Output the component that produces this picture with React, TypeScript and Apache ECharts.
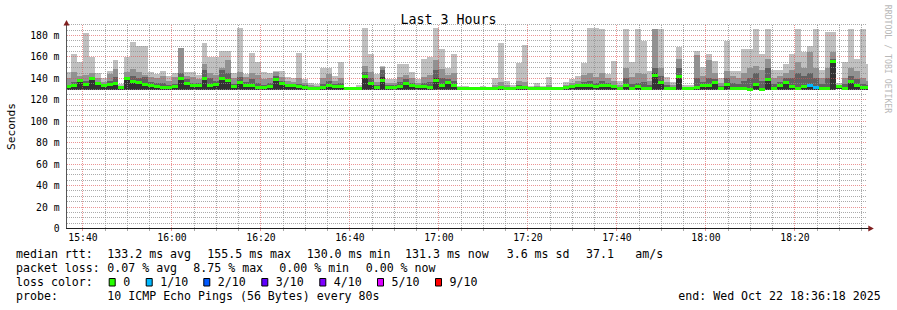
import React, { useEffect, useRef } from 'react';
import * as echarts from 'echarts';

// Times are minutes since midnight
const AXIS_START = 15 * 60 + 36 + 18 / 60; // 15:36:18
const AXIS_END = 18 * 60 + 36 + 18 / 60; // 18:36:18
const FIRST_BIN_START = 15 * 60 + 35 + 59 / 60; // 15:35:59
const BIN_MINUTES = 80 / 60; // one probe round every 80 s
const Y_MAX = 190;

// Smoke layers (ms): outer top .. inner top, bottom of smoke, median, loss (pings lost of 10)
const hi1 = [
  146, 162.5, 155, 182, 159.5, 145.5, 140, 146.5, 157, 134.5,
  159.5, 173.5, 170, 170, 146, 144, 147, 142.5, 145, 168,
  146, 146, 143, 173, 159.5, 159.5, 166, 166, 145, 187,
  144, 164, 155, 146, 145, 147, 147, 141, 140, 164,
  139, 136, 135, 150, 150, 142.5, 155.5, 132, 131.5, 134,
  187, 162.5, 144, 152, 139.4, 139.4, 153.3, 153.3, 145.6, 139.4,
  158, 160, 187, 167, 150, 162.5, 133, 133, 132, 131.5,
  133, 132, 140.5, 172.8, 138, 134, 154, 170.7, 133, 135.5,
  133, 141, 132, 131.5, 137, 139, 142, 154, 187, 187,
  186, 144, 156, 138, 186, 155, 186, 175, 147, 186.5,
  186, 141, 137, 169, 134, 134, 166, 150.5, 163, 156.7,
  140, 175, 147, 147, 167.6, 167.6, 186, 163, 186, 147.4,
  147.4, 153.6, 163, 186, 164.5, 170, 186, 147.4, 183, 183,
  136, 155, 186, 158, 186, 153,
];
const hi2 = [
  140, 146, 142, 143, 145, 140, 137, 144, 149, 133,
  146, 149, 146, 143, 141, 140, 142.5, 138, 141, 168,
  142.5, 141, 139, 153, 145, 143, 150, 157, 140, 146,
  141, 145, 143, 139, 140, 146, 141, 138, 137, 140,
  136, 134, 133, 140, 144, 138, 140, 131.5, 131, 132,
  152, 146, 137, 151, 136, 136, 141, 143, 140, 136,
  141, 143, 157, 149, 143, 145, 132, 132, 131, 131,
  131.5, 131, 134, 136.5, 134, 132, 138, 136.5, 131.5, 132.5,
  131.5, 134, 131, 131, 134, 136, 138, 143, 145, 141,
  145, 140, 138, 134, 150, 141, 145, 144, 138, 186,
  150, 137, 134, 158, 132, 132, 162, 142, 157, 145,
  136, 147, 142, 140, 145, 150, 152, 148, 158, 140,
  142, 145, 148, 155, 150, 165, 150, 140, 150, 165,
  134, 140, 150, 147, 140, 138,
];
const hi3 = [
  134, 137, 139, 138, 141, 136.5, 135, 138, 141, 132,
  141.5, 142, 140, 141.5, 137, 136, 136, 134, 135, 145,
  139, 136, 136, 148, 140, 138, 148, 145, 135, 141,
  137, 139, 136, 134, 136, 142, 138, 135, 135, 135,
  134, 132, 132, 135, 138, 135, 136, 131, 130.8, 131.5,
  146, 140, 134, 148, 134, 134, 137, 139, 136, 134,
  136, 137, 148, 140, 139, 138, 131.5, 131.5, 130.8, 130.7,
  131, 130.8, 132, 133, 132, 131, 134, 133, 131, 131.5,
  131, 132, 130.8, 130.7, 132, 133, 135, 137, 138, 136,
  138, 136, 134, 132, 140, 135, 136, 137, 134, 150,
  142, 134, 132, 150, 131, 131, 140, 137, 140, 139,
  133, 140, 136, 135, 138, 140, 145, 138, 150, 135,
  137, 140, 140, 145, 142, 145, 140, 135, 140, 158,
  133, 135, 142, 139, 135, 134,
];
const hi4 = [
  133, 134, 139, 135.5, 141, 135.5, 134, 135.5, 136, 131.8,
  141, 138, 136.5, 136, 134, 133, 132, 132, 133, 141,
  136, 134, 134, 141, 134, 134.5, 141, 139, 133, 137,
  134, 134, 132, 132, 133, 139.5, 135.5, 134, 134, 133,
  132, 131.5, 131.5, 132, 134, 133, 133.5, 130.8, 130.5, 131,
  143, 137, 132, 141, 132, 132, 133, 136, 134, 132,
  133, 133, 140, 134, 136.5, 134, 131.2, 131.2, 130.6, 130.5,
  130.7, 130.6, 131, 132.3, 131.3, 130.7, 132.3, 131.8, 130.7, 130.8,
  130.7, 131, 130.6, 130.5, 131.5, 132.3, 134, 133.5, 134, 133,
  134, 134.5, 132.5, 131.3, 135, 131.5, 132.5, 131.5, 131, 145,
  137, 131.5, 131.5, 143, 130.8, 130.8, 132, 134.5, 134.5, 137,
  131.5, 135, 131, 131, 131, 131, 135.5, 131, 140, 131,
  134, 137.5, 132.5, 131.5, 133, 134.5, 132, 131, 131, 157,
  132.8, 131, 138.5, 134.5, 132, 132,
];
const low = [
  129.5, 129.0, 129.3, 129.0, 129.2, 129.5, 129.3, 129.0, 129.2, 129.6,
  129.0, 129.3, 129.2, 129.0, 129.4, 129.5, 129.3, 129.5, 129.2, 129.0,
  129.3, 129.5, 129.4, 129.0, 129.3, 129.2, 129.0, 129.1, 129.4, 129.2,
  129.4, 129.3, 129.5, 129.6, 129.4, 129.0, 129.3, 129.5, 129.5, 129.4,
  129.6, 129.7, 129.7, 129.5, 129.3, 129.5, 129.4, 129.8, 129.8, 129.7,
  129.0, 129.2, 129.6, 129.0, 129.6, 129.6, 129.4, 129.2, 129.4, 129.6,
  129.4, 129.3, 129.0, 129.3, 129.2, 129.4, 129.8, 129.8, 129.8, 129.9,
  129.8, 129.8, 129.7, 129.6, 129.7, 129.8, 129.6, 129.6, 129.8, 129.7,
  129.8, 129.7, 129.8, 129.9, 129.6, 129.5, 129.3, 129.3, 129.2, 129.4,
  129.3, 129.3, 129.4, 129.6, 129.2, 129.5, 129.4, 129.5, 129.7, 129.0,
  129.2, 129.6, 129.6, 129.0, 129.8, 129.8, 129.5, 129.3, 129.3, 129.2,
  129.6, 129.3, 129.5, 129.6, 129.5, 129.6, 129.3, 129.6, 129.0, 129.6,
  129.4, 129.2, 129.4, 129.5, 129.4, 129.2, 129.4, 129.6, 129.5, 129.0,
  129.7, 129.5, 129.0, 129.3, 129.4, 129.5,
];
const median = [
  132.5, 133, 138, 134.5, 140, 135, 133.5, 134.5, 135, 131.5,
  140, 137, 136, 134.5, 133, 132.5, 131.5, 131.5, 132.5, 140,
  135, 133.5, 133, 140, 133, 134, 140, 138, 132.5, 136.5,
  133.5, 133.5, 131.2, 131.5, 132.5, 138.8, 135, 133.5, 133.5, 132,
  131.2, 131, 131, 131.5, 133.5, 132, 132.5, 130.3, 130.2, 130.8,
  141.8, 135.5, 131.5, 138.5, 131.5, 131.5, 132.4, 135.3, 133.7, 132,
  132.4, 131.8, 137.8, 133.1, 135.8, 133.1, 131, 131, 130.5, 130.3,
  130.5, 130.4, 130.8, 131.9, 131, 130.5, 131.9, 131.3, 130.5, 130.6,
  130.5, 130.8, 130.5, 130.3, 131.2, 132, 133.5, 133, 133.5, 132.5,
  133, 133.8, 132, 131, 133.5, 131, 132, 131, 130.5, 143,
  136, 131, 131, 142, 130.4, 130.4, 131.3, 133.5, 133.5, 136,
  131, 134, 130.5, 130.5, 130.5, 130, 134, 130, 138.6, 130.5,
  133, 136.3, 132, 131, 132.5, 133.5, 131.5, 130.5, 130.5, 155.5,
  132.5, 130.5, 137.3, 133.5, 131.3, 131.3,
];
const loss = [
  0, 0, 0, 0, 0, 0, 0, 0, 0, 0, 0, 0, 0, 0, 0, 0, 0, 0, 0, 0,
  0, 0, 0, 0, 0, 0, 0, 0, 0, 0, 0, 0, 0, 0, 0, 0, 0, 0, 0, 0,
  0, 0, 0, 0, 0, 0, 0, 0, 0, 0, 0, 0, 0, 0, 0, 0, 0, 0, 0, 0,
  0, 0, 0, 0, 0, 0, 0, 0, 0, 0, 0, 0, 0, 0, 0, 0, 0, 0, 0, 0,
  0, 0, 0, 0, 0, 0, 0, 0, 0, 0, 0, 0, 0, 0, 0, 0, 0, 0, 0, 0,
  0, 0, 0, 0, 0, 0, 0, 0, 0, 0, 0, 0, 0, 0, 0, 0, 0, 0, 0, 0,
  0, 0, 0, 0, 0, 1, 1, 0, 0, 0, 0, 0, 0, 0, 0, 0,
];

const lossLabels = ['0', '1/10', '2/10', '3/10', '4/10', '5/10', '9/10'];
const lossColors = ['#26ff00', '#00b8ff', '#0059ff', '#5e00ff', '#7e00ff', '#dd00ff', '#ff0000'];
const smokeColors = ['#c0c0c0', '#919191', '#616161', '#323232'];

const titleText = 'Last 3 Hours';
const yAxisTitle = 'Seconds';
const creditText = 'RRDTOOL / TOBI OETIKER';
const rttLabel = 'median rtt:';
const rttStats = ['133.2 ms avg', '155.5 ms max', '130.0 ms min', '131.3 ms now', '3.6 ms sd', '37.1', 'am/s'];
const lossLabel = 'packet loss:';
const lossStats = ['0.07 % avg', '8.75 % max', '0.00 % min', '0.00 % now'];
const colorLabel = 'loss color:';
const probeLabel = 'probe:';
const probeText = '10 ICMP Echo Pings (56 Bytes) every 80s';
const endText = 'end: Wed Oct 22 18:36:18 2025';

// layout (pixels)
const GRID = { left: 66.5, top: 24.8, width: 801, height: 203.7 };
const ROW_Y = [254, 268, 282, 296];
const RTT_X = [107.3, 207.3, 306.7, 405, 506.7, 586, 635.3];
const LOSS_X = [107.3, 193.3, 279.3, 365.7];
const BOX_X = [108.7, 145.7, 203.3, 261.3, 319.3, 377, 435];

const MONO = '"DejaVu Sans Mono", monospace';
const LEG_FONT = `11.6px ${MONO}`;
const MINOR_GRID = 'rgba(143,143,143,0.75)';
const MAJOR_GRID = 'rgba(222,79,79,0.6)';
const ARROW = '#801f1f';

// grid line spacing: every 5 minutes (major every 20) and every 5 ms (major every 20)
const V_STEP = 5;
const V_MAJOR = 20;
const H_STEP = 5;
const H_MAJOR = 20;

// dotted line made of 1x1 filled squares every 2 px
echarts.graphic.registerShape(
  'dotline',
  (echarts.graphic as any).extendShape({
    type: 'dotline',
    shape: { x1: 0, y1: 0, x2: 0, y2: 0 },
    buildPath(ctx: any, shape: any) {
      if (shape.x1 === shape.x2) {
        for (let y = shape.y1; y < shape.y2; y += 2) ctx.rect(shape.x1, y, 1, 1);
      } else {
        for (let x = shape.x1; x < shape.x2; x += 2) ctx.rect(x, shape.y1, 1, 1);
      }
    },
  })
);

function txt(x: number, y: number, text: string, extra: any = {}) {
  return {
    type: 'text',
    x,
    y,
    z: 10,
    style: {
      text,
      font: LEG_FONT,
      fill: '#000',
      textAlign: 'left',
      textVerticalAlign: 'middle',
      ...extra,
    },
  };
}

function buildOption() {
  const bins = median.map((m, j) => {
    const t0 = FIRST_BIN_START + j * BIN_MINUTES;
    return [t0, t0 + BIN_MINUTES, low[j], hi1[j], hi2[j], hi3[j], hi4[j], m];
  });

  const vLines: number[][] = [];
  const vMajor: boolean[] = [];
  for (let t = Math.ceil(AXIS_START / V_STEP) * V_STEP; t < AXIS_END; t += V_STEP) {
    vLines.push([t, 0]);
    vMajor.push(t % V_MAJOR === 0);
  }
  const hLines: number[][] = [];
  const hMajor: boolean[] = [];
  for (let v = H_STEP; v <= Y_MAX; v += H_STEP) {
    hLines.push([AXIS_START, v]);
    hMajor.push(v % H_MAJOR === 0);
  }

  const fmtTime = (v: number) => {
    const r = Math.round(v);
    if (Math.abs(v - r) > 1e-6 || r % 20 !== 0) return '';
    const h = Math.floor(r / 60);
    const mm = r % 60;
    return `${h}:${String(mm).padStart(2, '0')}`;
  };
  const fmtMs = (v: number) => {
    if (Math.abs(v % 20) > 1e-6) return '';
    return v === 0 ? '0' : `${v} m`;
  };

  const graphic: any[] = [];
  graphic.push(txt(448.5, 19, titleText, { font: `13.3px ${MONO}`, textAlign: 'center' }));
  graphic.push({
    type: 'text', x: 11, y: 126.5, rotation: Math.PI / 2, z: 10,
    style: { text: yAxisTitle, font: `11.2px ${MONO}`, fill: '#000', textAlign: 'center', textVerticalAlign: 'middle' },
  });
  graphic.push({
    type: 'text', x: 887.5, y: 59, rotation: -Math.PI / 2, z: 10,
    style: { text: creditText, font: `8.2px ${MONO}`, fill: '#b8b8b8', textAlign: 'center', textVerticalAlign: 'middle' },
  });
  // axis arrows
  graphic.push({
    type: 'polygon', z: 10,
    shape: { points: [[63.5, 25.5], [69.5, 25.5], [66.5, 20]] },
    style: { fill: ARROW },
  });
  graphic.push({
    type: 'rect', z: 10,
    shape: { x: 867, y: 228, width: 2, height: 1 },
    style: { fill: '#1f1f1f' },
  });
  graphic.push({
    type: 'polygon', z: 10,
    shape: { points: [[868.3, 225.5], [868.3, 231.5], [873.8, 228.5]] },
    style: { fill: ARROW },
  });

  // legend rows
  graphic.push(txt(16, ROW_Y[0], rttLabel));
  rttStats.forEach((s, i) => graphic.push(txt(RTT_X[i], ROW_Y[0], s)));
  graphic.push(txt(16, ROW_Y[1], lossLabel));
  lossStats.forEach((s, i) => graphic.push(txt(LOSS_X[i], ROW_Y[1], s)));
  graphic.push(txt(16, ROW_Y[2], colorLabel));
  lossLabels.forEach((s, i) => {
    graphic.push({
      type: 'rect', z: 10,
      shape: { x: BOX_X[i] + 0.5, y: ROW_Y[2] - 3.5, width: 6, height: 7.5 },
      style: { fill: lossColors[i], stroke: '#000', lineWidth: 1 },
    });
    graphic.push(txt(BOX_X[i] + 14.5, ROW_Y[2], s));
  });
  graphic.push(txt(16, ROW_Y[3], probeLabel));
  graphic.push(txt(107.3, ROW_Y[3], probeText));
  graphic.push(txt(678.3, ROW_Y[3], endText));

  return {
    animation: false,
    backgroundColor: '#ffffff',
    grid: { ...GRID, containLabel: false },
    xAxis: {
      type: 'value',
      min: AXIS_START,
      max: AXIS_END,
      splitNumber: 36,
      minInterval: 5,
      maxInterval: 5,
      z: 6,
      axisLine: { show: true, onZero: false, lineStyle: { color: '#1f1f1f', width: 1 } },
      axisTick: { show: false },
      axisLabel: {
        formatter: fmtTime,
        color: '#000',
        fontFamily: MONO,
        fontSize: 9.75,
        margin: 4,
        showMinLabel: false,
        showMaxLabel: false,
      },
      splitLine: { show: false },
    },
    yAxis: {
      type: 'value',
      min: 0,
      max: Y_MAX,
      interval: 20,
      z: 6,
      axisLine: { show: true, lineStyle: { color: '#555', width: 1 } },
      axisTick: { show: false },
      axisLabel: {
        formatter: fmtMs,
        color: '#000',
        fontFamily: MONO,
        fontSize: 9.75,
        margin: 7,
        showMaxLabel: false,
      },
      splitLine: { show: false },
    },
    series: [
      {
        type: 'custom',
        name: 'smoke',
        z: 1,
        encode: { x: [0, 1], y: [2, 3, 4, 5, 6] },
        data: bins,
        renderItem: (params: any, api: any) => {
          const cs = params.coordSys;
          const a = api.coord([api.value(0), api.value(2)]);
          const b = api.coord([api.value(1), api.value(2)]);
          const xl = Math.round(Math.max(a[0], cs.x));
          const xr = Math.round(Math.min(b[0], cs.x + cs.width));
          if (xr <= xl) return null;
          const yLo = Math.round(a[1]);
          const children = [3, 4, 5, 6].map((dim, k) => {
            const yHi = Math.round(api.coord([api.value(0), api.value(dim)])[1]);
            return {
              type: 'rect',
              shape: { x: xl, y: yHi, width: xr - xl, height: Math.max(0, yLo - yHi) },
              style: { fill: smokeColors[k] },
            };
          });
          return { type: 'group', children };
        },
      },
      {
        type: 'custom',
        name: 'vgrid',
        z: 3,
        silent: true,
        encode: { x: 0, y: 1 },
        data: vLines,
        renderItem: (params: any, api: any) => {
          const cs = params.coordSys;
          const color = vMajor[params.dataIndex] ? MAJOR_GRID : MINOR_GRID;
          const x = Math.floor(api.coord([api.value(0), 0])[0]);
          const bottom = Math.floor(cs.y + cs.height);
          return {
            type: 'group',
            children: [
              {
                type: 'dotline',
                shape: { x1: x, y1: Math.ceil(cs.y), x2: x, y2: bottom },
                style: { fill: color },
              },
              {
                type: 'rect',
                shape: { x, y: bottom + 1, width: 1, height: 2 },
                style: { fill: color },
              },
            ],
          };
        },
      },
      {
        type: 'custom',
        name: 'hgrid',
        z: 3,
        silent: true,
        encode: { x: 0, y: 1 },
        data: hLines,
        renderItem: (params: any, api: any) => {
          const cs = params.coordSys;
          const color = hMajor[params.dataIndex] ? MAJOR_GRID : MINOR_GRID;
          const y = Math.floor(api.coord([api.value(0), api.value(1)])[1]);
          return {
            type: 'dotline',
            shape: { x1: Math.ceil(cs.x), y1: y, x2: Math.floor(cs.x + cs.width), y2: y },
            style: { fill: color },
          };
        },
      },
      {
        type: 'custom',
        name: 'median',
        z: 5,
        encode: { x: [0, 1], y: 7 },
        data: bins,
        renderItem: (params: any, api: any) => {
          const j = params.dataIndex;
          const cs = params.coordSys;
          const p0 = api.coord([api.value(0), api.value(7)]);
          const p1 = api.coord([api.value(1), api.value(7)]);
          const xl = Math.round(Math.max(p0[0], cs.x));
          const xr = Math.round(Math.min(p1[0], cs.x + cs.width));
          if (xr <= xl) return null;
          const top = Math.round(p0[1] - 1.5);
          return {
            type: 'rect',
            shape: { x: xl, y: top, width: xr - xl, height: 3 },
            style: { fill: lossColors[loss[j]] },
          };
        },
      },
    ],
    graphic,
  };
}

export default function App() {
  const ref = useRef<HTMLDivElement>(null);
  useEffect(() => {
    if (!ref.current) return;
    const chart = echarts.init(ref.current, undefined, { renderer: 'svg' });
    chart.setOption(buildOption() as any);
    return () => chart.dispose();
  }, []);
  return (
    <div
      ref={ref}
      style={{ position: 'fixed', left: 0, top: 0, width: 897, height: 310, background: '#fff' }}
    />
  );
}
